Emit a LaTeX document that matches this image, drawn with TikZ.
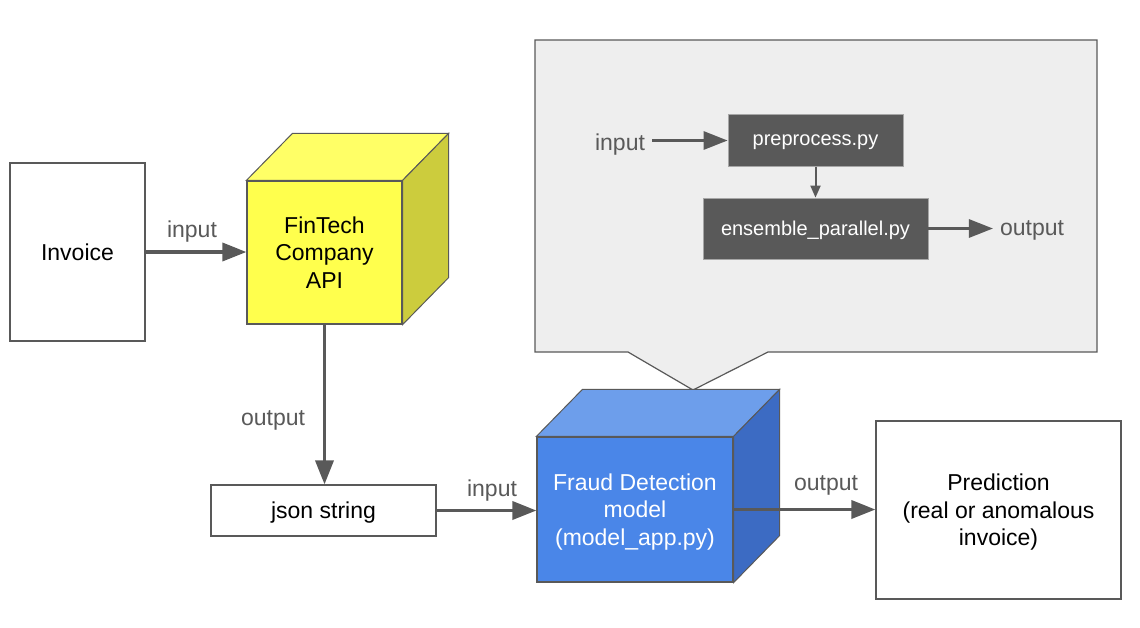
\documentclass[tikz,border=0pt]{standalone}
\usepackage{fontspec}
\setmainfont{Liberation Sans}
\usetikzlibrary{arrows.meta}
\definecolor{linegray}{HTML}{595959}
\definecolor{calloutfill}{HTML}{EEEEEE}
\definecolor{yellowfront}{HTML}{FFFF4D}
\definecolor{yellowtop}{HTML}{FFFF66}
\definecolor{yellowside}{HTML}{CCCC3D}
\definecolor{bluefront}{HTML}{4A86E8}
\definecolor{bluetop}{HTML}{6D9EEB}
\definecolor{blueside}{HTML}{3C6BC3}
\def\depth{(46,-47)}

\begin{document}
\begin{tikzpicture}[x=0.5pt, y=-0.5pt,
    box/.style={draw=linegray, fill=white, line width=0.6pt, align=center, inner sep=0pt,
      text depth=0pt, font=\fontsize{11.5}{13.8}\selectfont},
    cubeface/.style={draw=linegray, line width=0.5pt},
    darkbox/.style={draw=gray!70, fill=linegray, text=white, inner sep=0pt,
      text depth=0pt, font=\fontsize{10}{12}\selectfont},
    flowlabel/.style={text=linegray, font=\fontsize{11.5}{13.8}\selectfont},
    flow/.style={draw=linegray, line width=1.8pt, -{Triangle[length=12pt,width=9pt]}},
    smallflow/.style={draw=linegray, line width=1pt, -{Triangle[length=6pt,width=5pt]}}]
  \useasboundingbox (0,0) rectangle (1140,627);

  % callout
  \draw[draw=linegray, fill=calloutfill, line width=0.6pt]
    (535,40) -- (1097,40) -- (1097,352) -- (768,352) -- (693,390) -- (628,352) -- (535,352) -- cycle;
  \node[darkbox, minimum width=87.5pt, minimum height=26pt] (preprocess) at (815.5,140.5) {preprocess.py};
  \node[darkbox, minimum width=112.5pt, minimum height=30.5pt] (ensemble) at (815.5,228.5) {ensemble\_parallel.py};
  \node[flowlabel] (inlabel) at (620,145) {input};
  \node[flowlabel] (outlabel) at (1032,230) {output};
  \draw[flow, line width=1.5pt] (inlabel.east |- preprocess.west) -- (preprocess.west);
  \draw[smallflow] (preprocess.south) -- (ensemble.north);
  \draw[flow, line width=1.5pt] (ensemble.east) -- (ensemble.east -| outlabel.west);

  % boxes
  \node[box, minimum width=67.5pt, minimum height=89pt] (invoice) at (77.5,252) {Invoice};
  \node[box, minimum width=112.5pt, minimum height=25.5pt] (json) at (323.5,510.5) {json string};
  \node[box, minimum width=122.5pt, minimum height=89pt] (prediction) at (998.5,510)
    {Prediction\\(real or anomalous\\invoice)};

  % cubes
  \node[box, fill=yellowfront, minimum width=77.5pt, minimum height=71.5pt] (fintech) at (324.5,252.5)
    {FinTech\\Company\\API};
  \draw[cubeface, fill=yellowtop] (fintech.north west) -- ([shift=\depth]fintech.north west)
    -- ([shift=\depth]fintech.north east) -- (fintech.north east) -- cycle;
  \draw[cubeface, fill=yellowside] (fintech.north east) -- ([shift=\depth]fintech.north east)
    -- ([shift=\depth]fintech.south east) -- (fintech.south east) -- cycle;

  \node[box, fill=bluefront, text=white, minimum width=98pt, minimum height=72.5pt] (fraud) at (635,509.5)
    {Fraud Detection\\model\\(model\_app.py)};
  \draw[cubeface, fill=bluetop] (fraud.north west) -- ([shift=\depth]fraud.north west)
    -- ([shift=\depth]fraud.north east) -- (fraud.north east) -- cycle;
  \draw[cubeface, fill=blueside] (fraud.north east) -- ([shift=\depth]fraud.north east)
    -- ([shift=\depth]fraud.south east) -- (fraud.south east) -- cycle;

  % connectors
  \draw[flow] (invoice.east) -- (invoice.east -| fintech.west);
  \draw[flow] (fintech.south) -- (fintech.south |- json.north);
  \draw[flow] (json.east) -- (json.east -| fraud.west);
  \draw[flow] (fraud.east) -- (fraud.east -| prediction.west);
  \node[flowlabel] (lblinvoice) at (192,232) {input};
  \node[flowlabel] (lblapi) at (273,420) {output};
  \node[flowlabel] (lbljson) at (492,491) {input};
  \node[flowlabel] (lblfraud) at (826,485) {output};
\end{tikzpicture}
\end{document}
